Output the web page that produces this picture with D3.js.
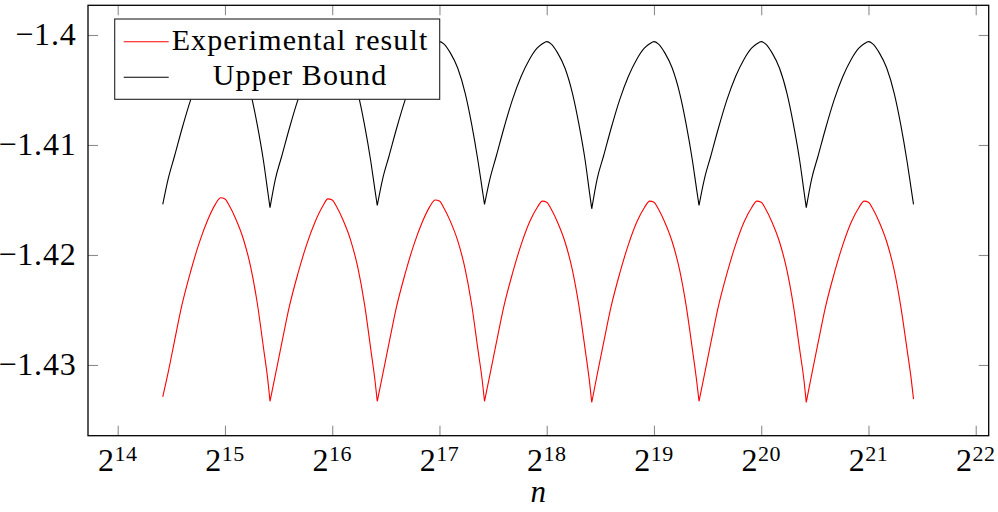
<!DOCTYPE html>
<html>
<head>
<meta charset="utf-8">
<script src="https://cdn.jsdelivr.net/npm/d3@7"></script>
</head>
<body style="margin:0">
<div id="chart"></div>
<script>
// n = 2^exponent, shared by both series
var nExponent = [
  14.42,14.47,14.53,14.60,14.68,14.76,14.84,14.91,14.96,15.00,15.04,15.10,15.17,15.24,15.30,15.36,15.40,
  15.42,15.47,15.53,15.60,15.68,15.76,15.84,15.91,15.96,16.00,16.04,16.10,16.17,16.24,16.30,16.36,16.40,
  16.42,16.47,16.53,16.60,16.68,16.76,16.84,16.91,16.96,17.00,17.04,17.10,17.17,17.24,17.30,17.36,17.40,
  17.42,17.47,17.53,17.60,17.68,17.76,17.84,17.91,17.96,18.00,18.04,18.10,18.17,18.24,18.30,18.36,18.40,
  18.42,18.47,18.53,18.60,18.68,18.76,18.84,18.91,18.96,19.00,19.04,19.10,19.17,19.24,19.30,19.36,19.40,
  19.42,19.47,19.53,19.60,19.68,19.76,19.84,19.91,19.96,20.00,20.04,20.10,20.17,20.24,20.30,20.36,20.40,
  20.42,20.47,20.53,20.60,20.68,20.76,20.84,20.91,20.96,21.00,21.04,21.10,21.17,21.24,21.30,21.36,21.40,
  21.42
];

var experimental = [
  -1.4329,-1.4307,-1.4278,-1.4245,-1.4215,-1.4189,-1.4168,-1.4154,-1.4148,-1.4149,-1.4155,-1.4167,-1.4185,-1.4211,-1.4243,-1.4285,-1.4314,
  -1.4333,-1.4309,-1.4280,-1.4247,-1.4217,-1.4191,-1.4170,-1.4156,-1.4149,-1.4150,-1.4156,-1.4168,-1.4186,-1.4212,-1.4244,-1.4286,-1.4315,
  -1.4333,-1.4309,-1.4280,-1.4247,-1.4217,-1.4191,-1.4170,-1.4156,-1.4150,-1.4151,-1.4157,-1.4169,-1.4187,-1.4213,-1.4245,-1.4287,-1.4315,
  -1.4333,-1.4309,-1.4280,-1.4247,-1.4217,-1.4191,-1.4170,-1.4157,-1.4151,-1.4152,-1.4158,-1.4170,-1.4188,-1.4214,-1.4246,-1.4287,-1.4316,
  -1.4334,-1.4309,-1.4280,-1.4247,-1.4217,-1.4191,-1.4170,-1.4157,-1.4151,-1.4152,-1.4158,-1.4170,-1.4188,-1.4214,-1.4246,-1.4287,-1.4316,
  -1.4333,-1.4309,-1.4280,-1.4247,-1.4217,-1.4191,-1.4170,-1.4157,-1.4151,-1.4152,-1.4158,-1.4170,-1.4188,-1.4214,-1.4246,-1.4287,-1.4315,
  -1.4334,-1.4309,-1.4280,-1.4247,-1.4217,-1.4191,-1.4170,-1.4157,-1.4151,-1.4152,-1.4158,-1.4170,-1.4188,-1.4214,-1.4246,-1.4286,-1.4314,
  -1.4331
];

var upperBound = [
  -1.4154,-1.4131,-1.4110,-1.4085,-1.4059,-1.4038,-1.4022,-1.4012,-1.4008,-1.4006,-1.4008,-1.4016,-1.4030,-1.4053,-1.4081,-1.4115,-1.4143,
  -1.4157,-1.4131,-1.4110,-1.4085,-1.4059,-1.4038,-1.4022,-1.4012,-1.4008,-1.4006,-1.4008,-1.4016,-1.4030,-1.4053,-1.4081,-1.4115,-1.4142,
  -1.4155,-1.4131,-1.4110,-1.4085,-1.4059,-1.4038,-1.4022,-1.4012,-1.4008,-1.4006,-1.4008,-1.4016,-1.4030,-1.4053,-1.4081,-1.4115,-1.4141,
  -1.4154,-1.4131,-1.4110,-1.4085,-1.4059,-1.4038,-1.4022,-1.4012,-1.4008,-1.4006,-1.4008,-1.4016,-1.4030,-1.4053,-1.4081,-1.4115,-1.4144,
  -1.4158,-1.4131,-1.4110,-1.4085,-1.4059,-1.4038,-1.4022,-1.4012,-1.4008,-1.4006,-1.4008,-1.4016,-1.4030,-1.4053,-1.4081,-1.4115,-1.4142,
  -1.4155,-1.4131,-1.4110,-1.4085,-1.4059,-1.4038,-1.4022,-1.4012,-1.4008,-1.4006,-1.4008,-1.4016,-1.4030,-1.4053,-1.4081,-1.4115,-1.4143,
  -1.4157,-1.4131,-1.4110,-1.4085,-1.4059,-1.4038,-1.4022,-1.4012,-1.4008,-1.4006,-1.4008,-1.4016,-1.4030,-1.4053,-1.4081,-1.4115,-1.4141,
  -1.4154
];

var xTickExponents = [14, 15, 16, 17, 18, 19, 20, 21, 22];
var yTickValues = [-1.43, -1.42, -1.41, -1.40];
var yTickLabels = ["\u22121.43", "\u22121.42", "\u22121.41", "\u22121.4"];
var seriesNames = ["Experimental result", "Upper Bound"];
var seriesColors = ["#ff0000", "#000000"];

var W = 998, H = 512;
var plot = { left: 88, right: 988.7, top: 5.3, bottom: 435.7 };
var FONT = "'Liberation Serif'";

var svg = d3.select("#chart").append("svg")
    .attr("width", W).attr("height", H);

var x = d3.scaleLog().base(2)
    .domain([Math.pow(2, 13.723), Math.pow(2, 22.121)])
    .range([plot.left, plot.right]);
var y = d3.scaleLinear()
    .domain([-1.43643, -1.3973])
    .range([plot.bottom, plot.top]);

var xTicks = xTickExponents.map(function(e) { return Math.pow(2, e); });
var tickColor = "#8c8c8c";

// same text settings as the legend (which renders in the serif face)
function serifText(sel, size, spacing) {
    sel.style("font-family", FONT)
       .style("font-size", size + "px")
       .style("letter-spacing", (spacing || 0.4) + "px");
    return sel;
}

// ticks on all four sides, pointing inward
function styleTicks(g) {
    g.select(".domain").remove();
    g.selectAll(".tick line").attr("stroke", tickColor).attr("stroke-width", 1.1);
    g.selectAll(".tick text").remove();
}
svg.append("g").attr("transform", "translate(0," + plot.bottom + ")")
    .call(d3.axisBottom(x).tickValues(xTicks).tickSize(-10)).call(styleTicks);
svg.append("g").attr("transform", "translate(0," + plot.top + ")")
    .call(d3.axisTop(x).tickValues(xTicks).tickSize(-10)).call(styleTicks);
svg.append("g").attr("transform", "translate(" + plot.left + ",0)")
    .call(d3.axisLeft(y).tickValues(yTickValues).tickSize(-10)).call(styleTicks);
svg.append("g").attr("transform", "translate(" + plot.right + ",0)")
    .call(d3.axisRight(y).tickValues(yTickValues).tickSize(-10)).call(styleTicks);

// curves: smooth each arch between two cusps, keep cusps sharp
var line = d3.line()
    .x(function(d) { return x(Math.pow(2, d[0])); })
    .y(function(d) { return y(d[1]); })
    .curve(d3.curveMonotoneX);

function archPath(vals) {
    var pts = nExponent.map(function(e, j) { return [e, vals[j]]; });
    var parts = [], cur = [pts[0]];
    for (var j = 1; j < pts.length; j++) {
        cur.push(pts[j]);
        var isCusp = j < pts.length - 1 && vals[j] < vals[j - 1] && vals[j] < vals[j + 1];
        if (isCusp) { parts.push(cur); cur = [pts[j]]; }
    }
    parts.push(cur);
    return parts.map(function(p) { return line(p); }).join("");
}

[experimental, upperBound].forEach(function(vals, i) {
    svg.append("path")
        .attr("fill", "none")
        .attr("stroke", seriesColors[i])
        .attr("stroke-width", 1.1)
        .attr("stroke-linejoin", "miter")
        .attr("d", archPath(vals));
});

// frame
svg.append("rect")
    .attr("x", plot.left).attr("y", plot.top)
    .attr("width", plot.right - plot.left).attr("height", plot.bottom - plot.top)
    .attr("fill", "none").attr("stroke", "#000").attr("stroke-width", 1.3);

// y tick labels
svg.selectAll(".ylab").data(yTickValues).enter().append("text")
    .attr("class", "ylab")
    .attr("x", 76.5)
    .attr("y", function(d) { return y(d) + 10.5; })
    .attr("text-anchor", "end")
    .call(serifText, 32, 0.8)
    .text(function(d, i) { return yTickLabels[i]; });

// x tick labels: 2^k
var xl = svg.selectAll(".xlab").data(xTickExponents).enter().append("text")
    .attr("class", "xlab")
    .attr("x", function(d) { return x(Math.pow(2, d)); })
    .attr("y", 471)
    .attr("text-anchor", "middle")
    .call(serifText, 32, 0.4);
xl.append("tspan").text("2");
xl.append("tspan").attr("dy", -10)
    .call(serifText, 22, 0.4)
    .text(function(d) { return d; });

// axis label
svg.append("text")
    .attr("x", (plot.left + plot.right) / 2)
    .attr("y", 501.5)
    .attr("text-anchor", "middle")
    .call(serifText, 31, 0.4)
    .style("font-style", "italic")
    .text("n");

// legend
var lg = svg.append("g");
lg.append("rect")
    .attr("x", 114.7).attr("y", 19)
    .attr("width", 325).attr("height", 80.3)
    .attr("fill", "#fff").attr("stroke", "#222").attr("stroke-width", 1.1);
seriesNames.forEach(function(name, i) {
    var cy = i === 0 ? 41.7 : 77.3;
    lg.append("line")
        .attr("x1", 123.7).attr("x2", 168.7)
        .attr("y1", cy).attr("y2", cy)
        .attr("stroke", seriesColors[i]).attr("stroke-width", 1.1);
    lg.append("text")
        .attr("x", 300)
        .attr("y", i === 0 ? 50 : 85)
        .attr("text-anchor", "middle")
        .call(serifText, 30, 1.1)
        .text(name);
});
</script>
</body>
</html>
